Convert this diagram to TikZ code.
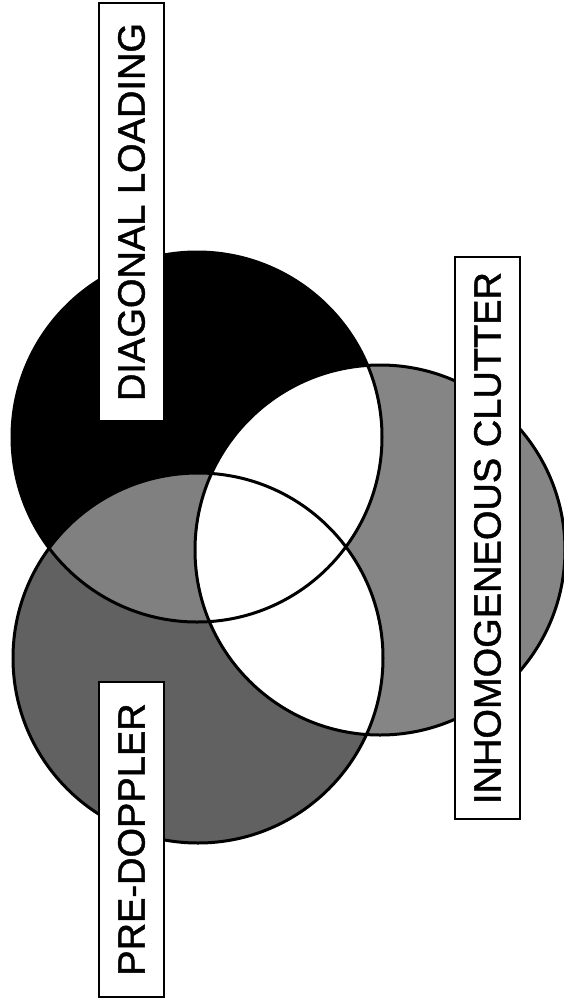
\documentclass[tikz,border=0pt]{standalone}
\usepackage{fontspec}
\setmainfont{Liberation Sans}
\newfontfamily\lblfont[FakeBold=1.2]{Liberation Sans}
\begin{document}
\begin{tikzpicture}[x=1pt,y=-1pt,
	lbl/.style={draw,line width=2.2pt,fill=white,rotate=90,inner sep=0pt,minimum height=65pt,font=\lblfont\fontsize{38}{40}\selectfont}]
	\useasboundingbox (0,0) rectangle (564,1005);
	\coordinate (dl) at (197,437);
	\coordinate (pd) at (198,658);
	\coordinate (ic) at (380,550);
	\fill[black!62] (pd) circle(185pt);
	\fill[black!48] (ic) circle(185pt);
	\fill[black] (dl) circle(185pt);
	\begin{scope}
		\clip (dl) circle(185pt);
		\fill[black!50] (pd) circle(185pt);
	\end{scope}
	\begin{scope}
		\clip (ic) circle(185pt);
		\fill[white] (dl) circle(185pt) (pd) circle(185pt);
	\end{scope}
	\draw[line width=3pt] (dl) circle(185pt) (pd) circle(185pt) (ic) circle(185pt);
	\node[lbl,minimum width=418pt] (diag) at (131.5,212) {DIAGONAL LOADING};
	\node[lbl,minimum width=562pt] (clut) at (487.5,538) {INHOMOGENEOUS CLUTTER};
	\node[lbl,minimum width=315pt] (pred) at (131.5,839.5) {PRE-DOPPLER};
\end{tikzpicture}
\end{document}
